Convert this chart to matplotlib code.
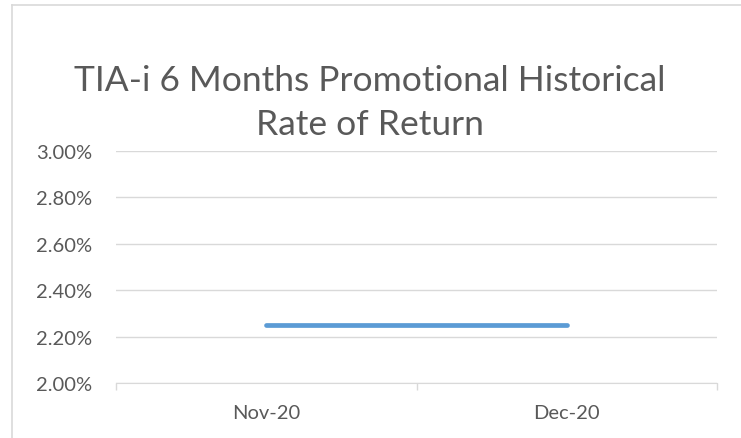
import matplotlib.pyplot as plt
from matplotlib.ticker import FuncFormatter, FixedLocator
from matplotlib.lines import Line2D

# data
months = ["Nov-20", "Dec-20"]
rates = [2.25, 2.25]
y_ticks = [2.0, 2.2, 2.4, 2.6, 2.8, 3.0]

plt.rcParams['font.family'] = ['Lato', 'DejaVu Sans']
txt = '#595959'
grid = '#d9d9d9'

fig = plt.figure(figsize=(7.41, 4.39), dpi=100)
ax = fig.add_axes([116 / 741, 1 - 384 / 439, (717 - 116) / 741, (384 - 152) / 439])

x = [i + 0.5 for i in range(len(months))]
ax.plot(x, rates, color='#5b9bd5', lw=3.4, solid_capstyle='round')

ax.set_xlim(0, len(months))
ax.set_ylim(2.0, 3.0)
ax.set_yticks(y_ticks)
ax.yaxis.set_major_formatter(FuncFormatter(lambda v, p: f"{v:.2f}%"))
ax.grid(axis='y', color=grid, lw=1)
ax.set_axisbelow(True)

# category labels between boundary ticks
ax.xaxis.set_major_locator(FixedLocator([0, 1, 2]))
ax.xaxis.set_minor_locator(FixedLocator(x))
ax.xaxis.set_major_formatter(FuncFormatter(lambda v, p: ""))
ax.set_xticklabels(months, minor=True)
ax.tick_params(axis='x', which='major', length=5, color=grid, width=1)
ax.tick_params(axis='x', which='minor', length=0, pad=15, labelsize=14.5, labelcolor=txt)
ax.tick_params(axis='y', length=0, pad=17, labelsize=14.5, labelcolor=txt)

for s in ['top', 'right', 'left']:
    ax.spines[s].set_visible(False)
ax.spines['bottom'].set_color(grid)

fig.text(370 / 741, 1 - 103 / 439, "TIA-i 6 Months Promotional Historical\nRate of Return",
         ha='center', va='center', fontsize=25.5, color=txt, linespacing=1.45)

# chart frame (left and top edges visible)
fig.add_artist(Line2D([11.5 / 741, 11.5 / 741], [0, 1 - 6 / 439], transform=fig.transFigure, color=grid, lw=1.2))
fig.add_artist(Line2D([11.5 / 741, 1], [1 - 6 / 439, 1 - 6 / 439], transform=fig.transFigure, color=grid, lw=1.2))

fig.savefig('out.png', dpi=100)
